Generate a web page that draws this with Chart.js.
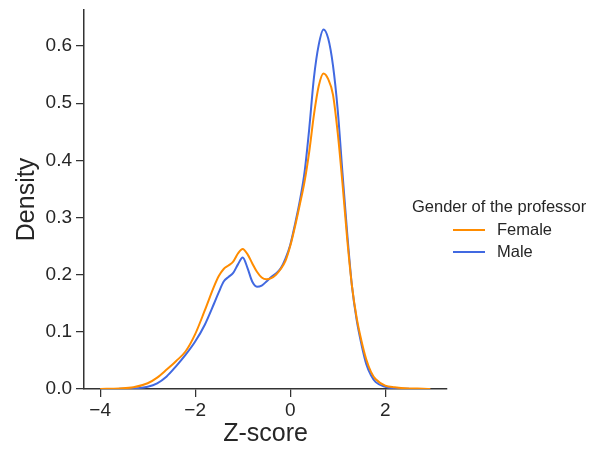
<!DOCTYPE html>
<html>
<head>
<meta charset="utf-8">
<script src="https://cdn.jsdelivr.net/npm/chart.js@4/dist/chart.umd.min.js"></script>
<style>
  html, body { margin: 0; padding: 0; background: #fff; }
  #wrap { width: 590px; height: 449px; position: relative; }
</style>
</head>
<body>
<div id="wrap"><canvas id="kde"></canvas></div>
<script>
// KDE of z-scores by professor gender
const zGrid = [-4.0, -3.6, -3.3, -3.0, -2.8, -2.6, -2.4, -2.2, -2.0, -1.8,
  -1.6, -1.5, -1.4, -1.3, -1.2, -1.1, -1.0, -0.9, -0.8, -0.7,
  -0.6, -0.5, -0.4, -0.3, -0.2, -0.1, 0.0, 0.1, 0.2, 0.3,
  0.4, 0.5, 0.6, 0.7, 0.8, 0.9, 1.0, 1.1, 1.2, 1.3,
  1.4, 1.5, 1.6, 1.7, 1.8, 2.0, 2.2, 2.5, 2.8, 2.95];

const femaleDensity = [0.000, 0.001, 0.003, 0.010, 0.020, 0.034, 0.049, 0.066, 0.096, 0.137,
  0.180, 0.198, 0.210, 0.216, 0.223, 0.237, 0.245, 0.236, 0.220, 0.205,
  0.195, 0.192, 0.194, 0.200, 0.210, 0.224, 0.250, 0.284, 0.322, 0.362,
  0.415, 0.480, 0.530, 0.552, 0.542, 0.515, 0.448, 0.360, 0.262, 0.180,
  0.124, 0.084, 0.052, 0.030, 0.017, 0.006, 0.003, 0.001, 0.0005, 0.000];

const maleDensity = [null, 0.0005, 0.001, 0.004, 0.010, 0.022, 0.040, 0.060, 0.083, 0.112,
  0.150, 0.170, 0.188, 0.196, 0.203, 0.218, 0.230, 0.212, 0.188, 0.179,
  0.181, 0.188, 0.196, 0.202, 0.211, 0.228, 0.252, 0.288, 0.328, 0.378,
  0.455, 0.545, 0.602, 0.629, 0.613, 0.566, 0.488, 0.378, 0.272, 0.180,
  0.120, 0.078, 0.044, 0.024, 0.012, 0.004, 0.001, 0.0003, null, null];

const seriesLabels = ['Female', 'Male'];
const xTickValues = [-4, -2, 0, 2];
const yTickValues = [0, 0.1, 0.2, 0.3, 0.4, 0.5, 0.6];
const legendTitle = 'Gender of the professor';

const FONT = '"Liberation Sans", Arial, sans-serif';
const INK = '#262626';
const AXIS = '#333333';

function toPoints(values) {
  return zGrid.map((z, i) => ({ x: z, y: values[i] }));
}

// legend to the right: title on top, line sample + label rows below
const sideLegend = {
  id: 'sideLegend',
  afterDraw(chart, args, opts) {
    const { ctx } = chart;
    ctx.save();
    ctx.font = `16.5px ${FONT}`;
    ctx.fillStyle = INK;
    ctx.textBaseline = 'middle';
    ctx.textAlign = 'left';
    ctx.fillText(opts.title, 412, 207);
    chart.data.datasets.forEach((ds, i) => {
      const y = 230 + i * 22;
      ctx.strokeStyle = ds.borderColor;
      ctx.lineWidth = 2;
      ctx.beginPath();
      ctx.moveTo(453, y);
      ctx.lineTo(485, y);
      ctx.stroke();
      ctx.fillStyle = INK;
      ctx.fillText(ds.label, 497, y);
    });
    ctx.restore();
  },
};

new Chart(document.getElementById('kde'), {
  type: 'line',
  data: {
    datasets: [
      {
        label: seriesLabels[0],
        data: toPoints(femaleDensity),
        borderColor: '#ff8c00',
        borderWidth: 2,
        pointRadius: 0,
        cubicInterpolationMode: 'monotone',
        fill: false,
      },
      {
        label: seriesLabels[1],
        data: toPoints(maleDensity),
        borderColor: '#4169e1',
        borderWidth: 2,
        pointRadius: 0,
        cubicInterpolationMode: 'monotone',
        fill: false,
      },
    ],
  },
  options: {
    responsive: true,
    maintainAspectRatio: false,
    animation: false,
    layout: { padding: { left: 0, right: 143, top: 10, bottom: 0 } },
    scales: {
      x: {
        type: 'linear',
        min: -4.34,
        max: 3.3,
        afterBuildTicks: (scale) => { scale.ticks = xTickValues.map((v) => ({ value: v })); },
        afterFit: (scale) => { scale.height = 60; scale.paddingLeft = 0; scale.paddingRight = 0; },
        ticks: {
          color: INK,
          font: { family: FONT, size: 19 },
          padding: 2,
          maxRotation: 0,
          callback: (v) => (v < 0 ? '\u2212' + Math.abs(v) : String(v)),
        },
        grid: { display: true, drawOnChartArea: false, drawTicks: true, tickLength: 8, color: AXIS, lineWidth: 1.25 },
        border: { display: true, color: AXIS, width: 1.5 },
        title: {
          display: true,
          text: 'Z-score',
          color: INK,
          font: { family: FONT, size: 25 },
          padding: { top: 0, bottom: 0 },
        },
      },
      y: {
        min: 0,
        max: 0.663,
        afterBuildTicks: (scale) => { scale.ticks = yTickValues.map((v) => ({ value: v })); },
        afterFit: (scale) => { scale.width = 84; scale.paddingTop = 0; scale.paddingBottom = 0; },
        ticks: {
          color: INK,
          font: { family: FONT, size: 19 },
          padding: 4,
          callback: (v) => v.toFixed(1),
        },
        grid: { display: true, drawOnChartArea: false, drawTicks: true, tickLength: 8, color: AXIS, lineWidth: 1.25 },
        border: { display: true, color: AXIS, width: 1.5 },
        title: {
          display: true,
          text: 'Density',
          color: INK,
          font: { family: FONT, size: 25 },
          padding: { top: 12, bottom: 0 },
        },
      },
    },
    plugins: {
      legend: { display: false },
      tooltip: { enabled: false },
      sideLegend: { title: legendTitle },
    },
  },
  plugins: [sideLegend],
});
</script>
</body>
</html>
